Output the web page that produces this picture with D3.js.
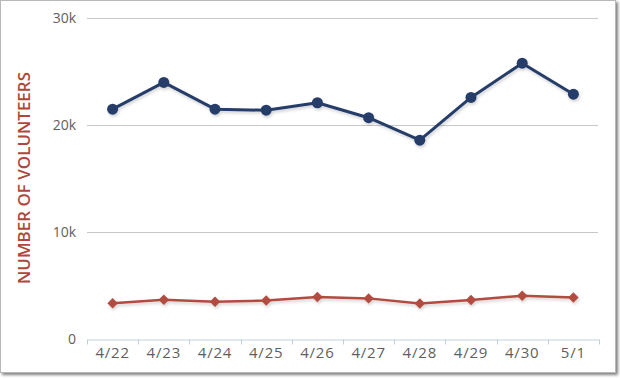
<!DOCTYPE html>
<html><head><meta charset="utf-8">
<script src="https://cdn.jsdelivr.net/npm/d3@7"></script>
<style>
html,body{margin:0;padding:0;background:#fff;}
svg{display:block;}
</style></head>
<body>
<svg id="c" width="620" height="379"></svg>
<script>
const categories = ["4/22","4/23","4/24","4/25","4/26","4/27","4/28","4/29","4/30","5/1"];
const seriesA = [21500, 24000, 21500, 21400, 22100, 20700, 18600, 22600, 25800, 22900];
const seriesB = [3340, 3680, 3490, 3600, 3930, 3800, 3330, 3650, 4050, 3890];
const yTicks = [0, 10000, 20000, 30000];
const yTickLabels = ["0", "10k", "20k", "30k"];
const yTitle = "NUMBER OF VOLUNTEERS";

const svg = d3.select("#c");
const defs = svg.append("defs");
const f = defs.append("filter").attr("id","sh").attr("x","-10%").attr("y","-10%").attr("width","130%").attr("height","140%");
f.append("feDropShadow").attr("dx",1).attr("dy",2).attr("stdDeviation",1.5).attr("flood-color","#000").attr("flood-opacity",0.18);
const fr = defs.append("filter").attr("id","fs").attr("x","-5%").attr("y","-5%").attr("width","110%").attr("height","110%");
fr.append("feDropShadow").attr("dx",2).attr("dy",2).attr("stdDeviation",1.5).attr("flood-color","#000").attr("flood-opacity",0.5);

svg.append("rect").attr("x",0.5).attr("y",0.5).attr("width",615).attr("height",372)
  .attr("fill","#fff").attr("stroke","#b8b8b8").attr("stroke-width",1).attr("filter","url(#fs)");

const x = d3.scaleBand().domain(categories).range([87, 599]);
const y = d3.scaleLinear().domain([0, 30000]).range([339, 18.3]);

svg.append("g").selectAll("line").data(yTicks.filter(d=>d>0)).join("line")
  .attr("x1",87).attr("x2",598).attr("y1",d=>Math.round(y(d))+0.5).attr("y2",d=>Math.round(y(d))+0.5)
  .attr("stroke","#c8c8c8").attr("stroke-width",1);

svg.append("g").selectAll("text").data(yTicks).join("text")
  .attr("x",76).attr("y",d=>y(d)+5).attr("text-anchor","end")
  .attr("font-family","'Open Sans', sans-serif").attr("font-size",14).attr("fill","#5f5f5f")
  .text((d,i)=>yTickLabels[i]);

const xAxis = d3.axisBottom(x).tickSize(6).tickSizeOuter(0);
const gx = svg.append("g").attr("transform",`translate(0,${Math.round(y(0))+0.5})`);
gx.call(xAxis);
gx.select(".domain").attr("stroke","#c0d0e0").attr("stroke-width",1);
gx.selectAll(".tick line").remove();
const bounds = d3.range(categories.length+1).map(i => 87 + i*x.bandwidth());
gx.append("g").selectAll("line").data(bounds).join("line")
  .attr("x1",d=>Math.round(d)+0.5).attr("x2",d=>Math.round(d)+0.5).attr("y1",0).attr("y2",5)
  .attr("stroke","#c0d0e0");
gx.selectAll(".tick text").attr("font-family","'Open Sans', sans-serif").attr("font-size",15)
  .attr("fill","#5f5f5f").attr("dy","0.95em").attr("y",4).style("letter-spacing","0.8px");

svg.append("text").attr("transform","translate(30,178) rotate(-90)")
  .attr("text-anchor","middle").attr("font-family","'Open Sans', sans-serif")
  .attr("font-size",17).attr("fill","#b0473a").attr("font-weight",600)
  .attr("textLength",212).attr("lengthAdjust","spacingAndGlyphs")
  .text(yTitle);

const cx = d => x(d) + x.bandwidth()/2;
const line = d3.line().x((d,i)=>cx(categories[i])).y(d=>y(d));

const gB = svg.append("g").attr("filter","url(#sh)");
gB.append("path").datum(seriesB).attr("d",line).attr("fill","none")
  .attr("stroke","#b24b3f").attr("stroke-width",2.5).attr("stroke-linejoin","round");
gB.selectAll("path.m").data(seriesB).join("path").attr("class","m")
  .attr("d", d3.symbol(d3.symbolDiamond2, 70))
  .attr("transform",(d,i)=>`translate(${cx(categories[i])},${y(d)})`)
  .attr("fill","#b24b3f");

const gA = svg.append("g").attr("filter","url(#sh)");
gA.append("path").datum(seriesA).attr("d",line).attr("fill","none")
  .attr("stroke","#253e69").attr("stroke-width",3).attr("stroke-linejoin","round");
gA.selectAll("circle").data(seriesA).join("circle")
  .attr("cx",(d,i)=>cx(categories[i])).attr("cy",d=>y(d)).attr("r",5.5)
  .attr("fill","#253e69");
</script>
</body></html>
